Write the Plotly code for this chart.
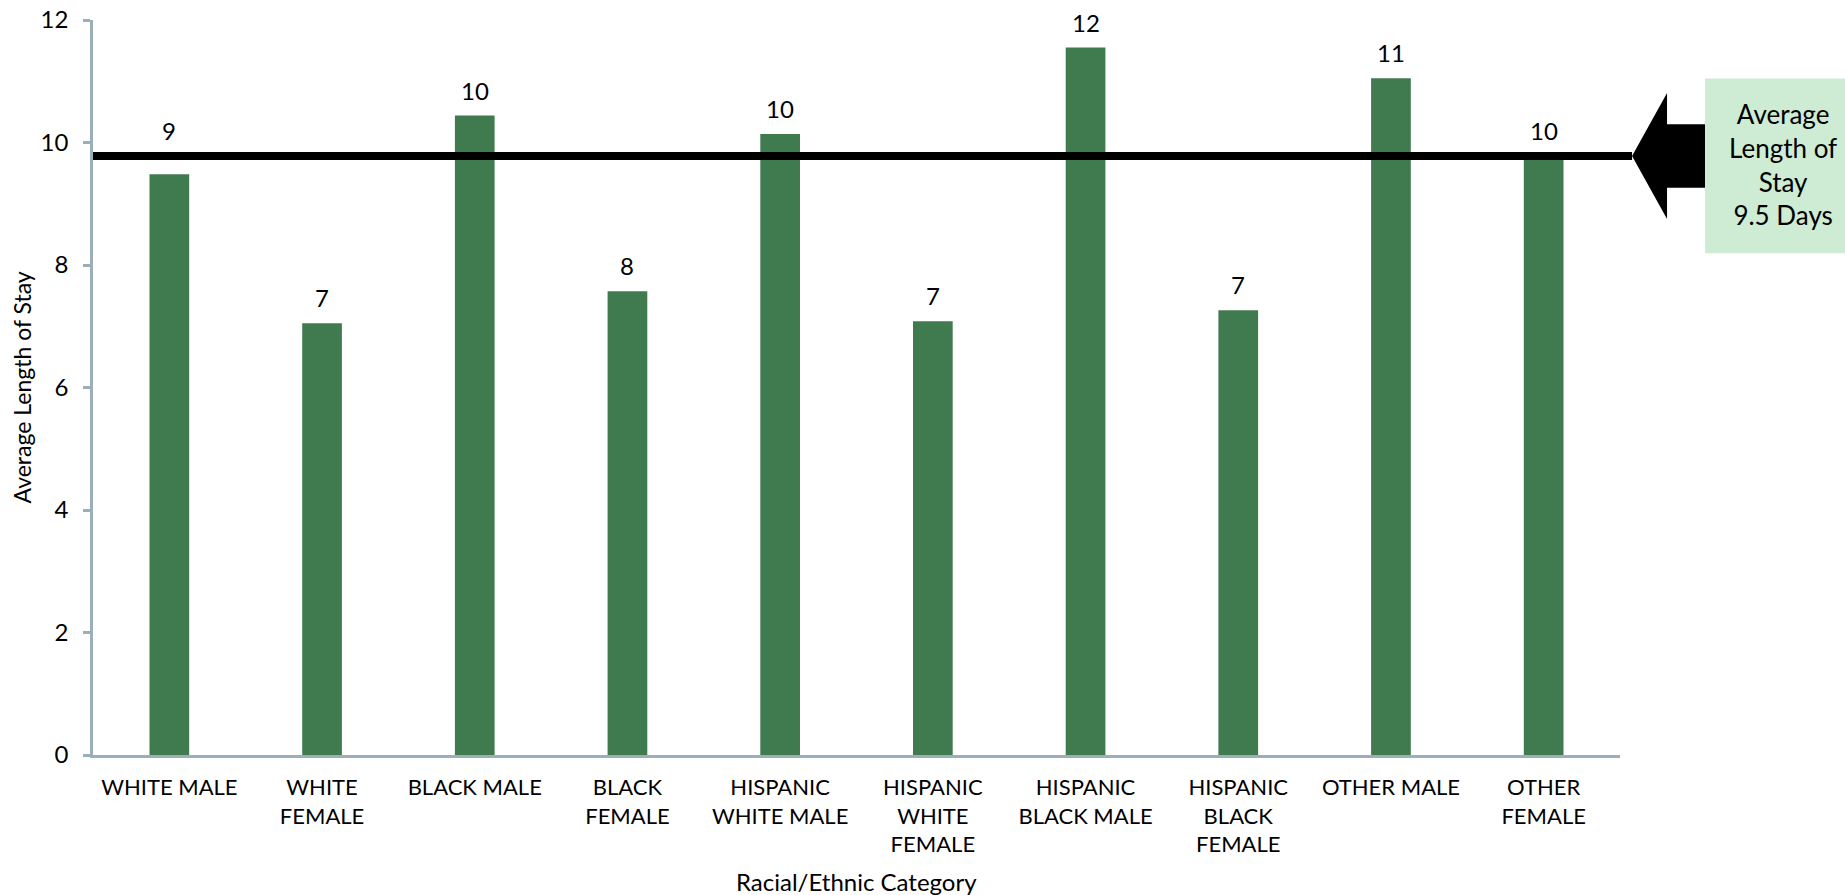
import plotly.graph_objects as go

categories = ["WHITE MALE", "WHITE<br>FEMALE", "BLACK MALE", "BLACK<br>FEMALE",
              "HISPANIC<br>WHITE MALE", "HISPANIC<br>WHITE<br>FEMALE",
              "HISPANIC<br>BLACK MALE", "HISPANIC<br>BLACK<br>FEMALE",
              "OTHER MALE", "OTHER<br>FEMALE"]
values = [9.48, 7.05, 10.44, 7.57, 10.14, 7.08, 11.55, 7.26, 11.05, 9.76]
avg_line_value = 9.78
avg_label = "Average<br>Length of<br>Stay<br>9.5 Days"
y_ticks = [0, 2, 4, 6, 8, 10, 12]
x_title = "Racial/Ethnic Category"
y_title = "Average Length of Stay"

FONT = "Lato"
BAR_COLOR = "#407B50"
AXIS_COLOR = "#9BAFB9"

fig = go.Figure()
fig.add_trace(go.Bar(x=categories, y=values, width=0.26,
                     marker=dict(color=BAR_COLOR, line=dict(width=0)),
                     showlegend=False, hoverinfo="x+y"))

# value labels above bars (lifted above the average line when it would overlap)
for c, v in zip(categories, values):
    label_y = avg_line_value if (avg_line_value - 0.6 < v < avg_line_value) else v
    fig.add_annotation(x=c, y=label_y, text=str(round(v)), showarrow=False,
                       yanchor="bottom", yshift=9,
                       font=dict(family=FONT, size=24, color="black"))

# average line
fig.add_shape(type="line", xref="paper", yref="y", x0=0, x1=1.0079,
              y0=avg_line_value, y1=avg_line_value,
              line=dict(color="black", width=8), layer="above")

# arrow (pointing left)
tip_x, head_x, shaft_x = 1.0079, 1.0308, 1.0557
hh, sh = 1.03, 0.52
a = avg_line_value
path = (f"M {tip_x},{a} L {head_x},{a+hh} L {head_x},{a+sh} L {shaft_x},{a+sh} "
        f"L {shaft_x},{a-sh} L {head_x},{a-sh} L {head_x},{a-hh} Z")
fig.add_shape(type="path", xref="paper", yref="y", path=path,
              fillcolor="black", line=dict(width=0), layer="above")

# green box
fig.add_shape(type="rect", xref="paper", yref="paper", x0=1.0557, x1=1.20,
              y0=0.6825, y1=0.9205, fillcolor="#CEEBD3", line=dict(width=0))
fig.add_annotation(xref="paper", yref="paper", x=1.1067, y=0.803,
                   xanchor="center", yanchor="middle", showarrow=False,
                   text=avg_label, align="center",
                   font=dict(family=FONT, size=26, color="black"))

# axis titles
fig.add_annotation(xref="paper", yref="paper", x=0.5, y=0, yshift=-126,
                   xanchor="center", yanchor="middle", showarrow=False,
                   text=x_title, font=dict(family=FONT, size=24, color="black"))
fig.add_annotation(xref="paper", yref="paper", x=0, y=0.5, xshift=-72,
                   xanchor="center", yanchor="middle", showarrow=False, textangle=-90,
                   text=y_title, font=dict(family=FONT, size=23, color="black"))

fig.update_layout(
    width=1845, height=895,
    margin=dict(l=93, r=225, t=20, b=140),
    plot_bgcolor="white", paper_bgcolor="white",
    font=dict(family=FONT, color="black"),
)
fig.update_xaxes(
    automargin=False,
    showline=True, linecolor=AXIS_COLOR, linewidth=2.5,
    ticks="", ticklabelstandoff=11,
    tickfont=dict(family=FONT, size=22, color="black"),
    showgrid=False, zeroline=False,
)
fig.update_yaxes(
    automargin=False,
    range=[0, 12], tickvals=y_ticks, ticktext=[str(t) for t in y_ticks],
    showline=True, linecolor=AXIS_COLOR, linewidth=2.5,
    ticks="outside", ticklen=7, tickwidth=2.5, tickcolor=AXIS_COLOR,
    ticklabelstandoff=10,
    tickfont=dict(family=FONT, size=24, color="black"),
    showgrid=False, zeroline=False,
)

fig.write_html("out.html")
